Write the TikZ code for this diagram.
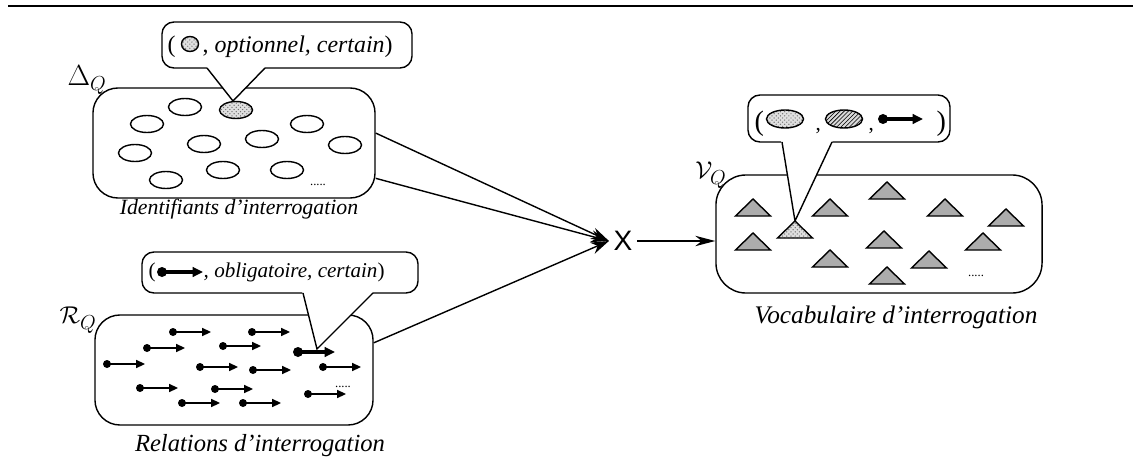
\documentclass[tikz,border=0pt]{standalone}
\usepackage{fontspec}
\setmainfont{Liberation Serif}
\newfontfamily\sansX{Liberation Sans}
\usetikzlibrary{arrows.meta,patterns,shapes.geometric,positioning}

\begin{document}
\begin{tikzpicture}[x=0.025cm,y=-0.025cm,line width=1pt]
\tikzset{set box/.style={draw,rounded corners=#1,inner sep=0pt},
  bubble/.style={draw,fill=white,rounded corners=3mm,inner sep=0pt},
  ident/.style={draw,ellipse,minimum width=8.25mm,minimum height=4.25mm,inner sep=0pt},
  stipple/.style={preaction={fill=gray!25},pattern=crosshatch dots,pattern color=gray!90!black},
  hatch/.style={preaction={fill=gray!30},pattern=north east lines},
  caption/.style={font=\fontsize{#1}{20}\selectfont\itshape},
  bubble text/.style={font=\fontsize{15}{18}\selectfont,inner sep=0pt,anchor=base west},
  set name/.style={font=\fontsize{19}{22}\selectfont},
  etc/.style={font=\fontsize{9}{10}\selectfont,inner sep=0pt},
  conv/.style={-{Stealth[length=4.5mm,width=3mm]}},
  pics/tri/.style={code={\draw[fill=gray!65,line join=miter,#1] (-17.5,0) -- (17.5,0) -- (0,-17) -- cycle;}},
  pics/tri/.default={},
  pics/rel/.style={code={\fill (0,0) circle[radius=4];
    \draw[-{Triangle[length=2.2mm,width=2mm]}] (0,0) -- (38,0);}},
  pics/boldrel/.style={code={\fill (0,0) circle[radius=5];
    \draw[line width=2.2pt,-{Triangle[length=2.6mm,width=2.4mm]}] (0,0) -- (#1,0);}},
}
\useasboundingbox (0,0) rectangle (1133,466);
\draw[line width=1.8pt] (8,6) -- (1133,6);

% the three sets
\node[set box=6.25mm,minimum width=70.5mm,minimum height=27.5mm] (idbox) at (234,143) {};
\node[set box=6.25mm,minimum width=69.5mm,minimum height=27.5mm] (relbox) at (234,370) {};
\node[set box=7.5mm,minimum width=81.5mm,minimum height=29.5mm] (vocbox) at (879,234) {};
\node[set name,font=\fontsize{22}{24}\selectfont] (delta) at (87,80) {$\Delta_Q$};
\node[set name] (rname) at (78,320) {$\mathcal{R}_Q$};
\node[set name] (vname) at (711,175) {$\mathcal{V}_Q$};
\node[caption=15.5] (idcap) at (239,209) {Identifiants d'interrogation};
\node[caption=17.5] (relcap) at (260,446) {Relations d'interrogation};
\node[caption=18] (voccap) at (896,317) {Vocabulaire d'interrogation};

% callouts
\node[bubble,minimum width=62.5mm,minimum height=11.5mm] (bub1) at (287,45) {};
\coordinate (tip1) at (233,101);
\fill[white] (206,66) -- (266,66) -- (tip1) -- cycle;
\draw (207,68) -- (tip1) -- (265,68);
\node[bubble text,font=\fontsize{17}{20}\selectfont] (par1) at (167,53) {(};
\node[ident,stipple,minimum width=4.25mm,minimum height=3.75mm] (tok1) at (190,44) {};
\node[bubble text,font=\fontsize{17}{20}\selectfont] (txt1) at (202,53) {, \textit{optionnel, certain})};

\node[bubble,minimum width=69mm,minimum height=10.25mm] (bub2) at (280,272.5) {};
\coordinate (tip2) at (317,349);
\fill[white] (302,291) -- (374,291) -- (tip2) -- cycle;
\draw (303,293) -- (tip2) -- (373,293);
\node[bubble text] (par2) at (148,277) {(};
\pic (tok2) at (162,272) {boldrel=41};
\node[bubble text] (txt2) at (203,277) {\textit{, obligatoire, certain})};

\node[bubble,minimum width=50.5mm,minimum height=11.75mm] (bub3) at (849,118.5) {};
\coordinate (tip3) at (795,221);
\fill[white] (781,140) -- (833,140) -- (tip3) -- cycle;
\draw (782,142) -- (tip3) -- (832,142);
\node[bubble text,font=\fontsize{20}{22}\selectfont] (par3) at (754,131) {(};
\node[ident,stipple,minimum width=9.25mm,minimum height=4.5mm] (tok3a) at (785,119) {};
\node[bubble text] (com3a) at (815,131) {,};
\node[ident,hatch,minimum width=9.25mm,minimum height=4.5mm] (tok3b) at (844,119) {};
\node[bubble text] (com3b) at (868,131) {,};
\pic (tok3c) at (883,119) {boldrel=40};
\node[bubble text,font=\fontsize{20}{22}\selectfont] (par3r) at (936,131) {)};

% identifiers
\node[ident] (e1) at (185,107) {};
\node[ident,stipple] (e2) at (236,110) {};
\node[ident] (e3) at (147,124) {};
\node[ident] (e4) at (307,124) {};
\node[ident] (e5) at (204,144) {};
\node[ident] (e6) at (262,139) {};
\node[ident] (e7) at (345,145) {};
\node[ident] (e8) at (135,153) {};
\node[ident] (e9) at (223,170) {};
\node[ident] (e10) at (287,170) {};
\node[ident] (e11) at (166,180) {};
\node[etc] (iddots) at (318,185) {.....};

% relations
\pic (r1) at (173,332) {rel};
\pic (r2) at (252,332) {rel};
\pic (r3) at (147,348) {rel};
\pic (r4) at (223,346) {rel};
\pic (r5) at (298,352) {boldrel=37};
\pic (r6) at (107,364) {rel};
\pic (r7) at (200,367) {rel};
\pic (r8) at (253,370) {rel};
\pic (r9) at (323,367) {rel};
\pic (r10) at (140,388) {rel};
\pic (r11) at (215,389) {rel};
\pic (r12) at (182,403) {rel};
\pic (r13) at (243,403) {rel};
\pic (r14) at (308,394) {rel};
\node[etc] (reldots) at (343,387) {.....};

% vocabulary
\pic (t1) at (753,216) {tri};
\pic (t2) at (830,216) {tri};
\pic (t3) at (887,199) {tri};
\pic (t4) at (945,216) {tri};
\pic (t5) at (1006,226) {tri};
\pic (t6) at (753,250) {tri};
\pic (t7) at (795,238) {tri={stipple}};
\pic (t8) at (884,248) {tri};
\pic (t9) at (983,250) {tri};
\pic (t10) at (830,267) {tri};
\pic (t11) at (929,268) {tri};
\pic (t12) at (887,284) {tri};
\node[etc] (vocdots) at (976,276) {.....};

% product
\node[font=\sansX\fontsize{20}{20}\selectfont,inner sep=1mm] (xop) at (623,241) {X};
\draw[conv] (idbox.4) -- (xop.west);
\draw[conv] (idbox.-14) -- (xop.west);
\draw[conv] (relbox.11) -- (xop.west);
\draw[-{Stealth[length=5mm,width=2.6mm]}] (xop.east) -- (xop.east -| vocbox.west);
\end{tikzpicture}
\end{document}
